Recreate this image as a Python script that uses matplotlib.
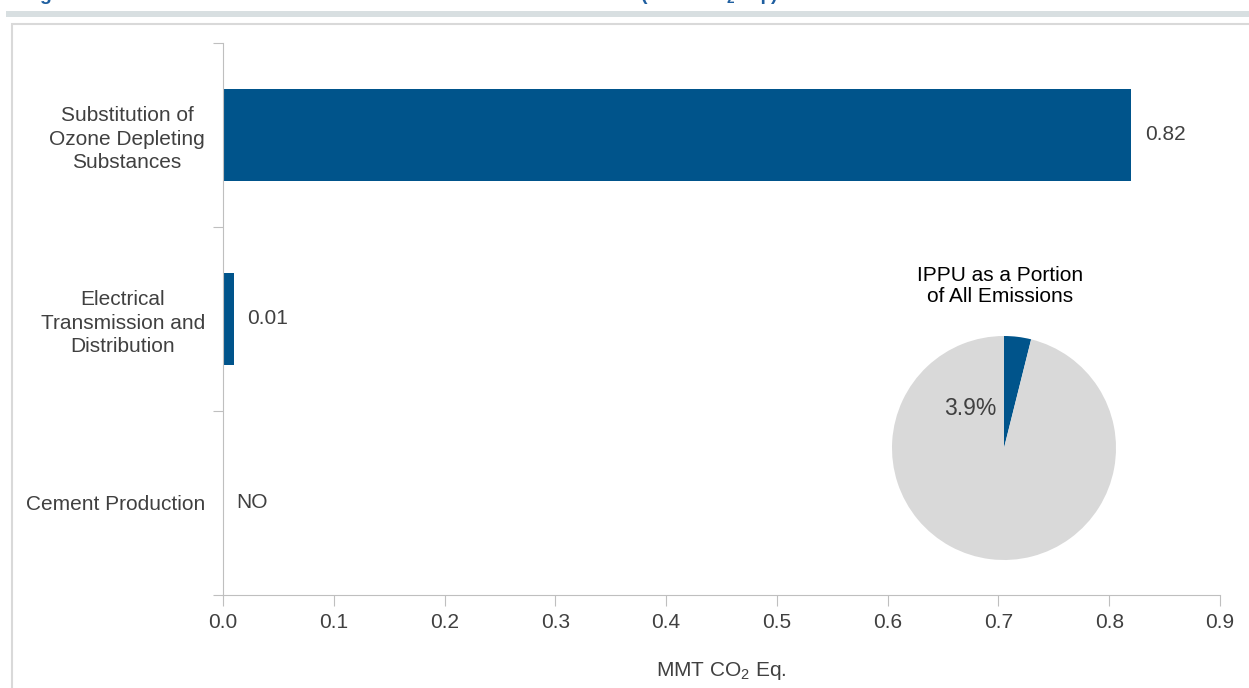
import matplotlib.pyplot as plt
from matplotlib.patches import Rectangle

plt.rcParams['font.family'] = ['Liberation Sans', 'DejaVu Sans']
plt.rcParams['mathtext.default'] = 'regular'

# data
categories = ['Substitution of\nOzone Depleting\nSubstances',
              'Electrical\nTransmission and\nDistribution',
              'Cement Production']
values = [0.82, 0.01, 0.0]
value_labels = ['0.82', '0.01', 'NO']
pie_values = [3.9, 96.1]
pie_label = '3.9%'
pie_title = 'IPPU as a Portion\nof All Emissions'
x_ticks = [0.0, 0.1, 0.2, 0.3, 0.4, 0.5, 0.6, 0.7, 0.8, 0.9]

BLUE = '#00548b'
GRAY = '#d9d9d9'
TXT = '#404040'
W, H = 1249, 688

fig = plt.figure(figsize=(W / 100, H / 100), dpi=100)

# page decorations: title cut by the top edge, band, panel frame
fig.text(400 / W, 1.0, 'Figure 4-1:  2015 Industrial Processes and Product Use Emissions (MMT CO$_2$ Eq.)',
         color='#1f5fa0', fontsize=14, fontweight='bold', va='baseline', ha='center')
fig.patches.append(Rectangle((6 / W, 1 - 17 / H), 1.0, 6 / H, transform=fig.transFigure,
                             facecolor='#d8dfe1', edgecolor='none'))
fig.patches.append(Rectangle((12 / W, -0.1), 1.0, 1.1 - 24 / H, transform=fig.transFigure,
                             facecolor='none', edgecolor='#d9d9d9', lw=1.5))

ax = fig.add_axes([223 / W, 1 - 595 / H, (1220 - 223) / W, (595 - 43) / H])
ypos = [2, 1, 0]
ax.barh(ypos, values, height=0.5, color=BLUE)
for y, v, lab in zip(ypos, values, value_labels):
    ax.text(v + 0.012, y, lab, va='center', ha='left', fontsize=15, color=TXT)

ax.set_xlim(0, 0.9)
ax.set_ylim(-0.5, 2.5)
ax.set_xticks(x_ticks)
ax.set_xticklabels([f'{t:.1f}' for t in x_ticks])
ax.set_yticks([-0.5, 0.5, 1.5, 2.5])
ax.set_yticklabels([])
ax.set_yticks(ypos, minor=True)
ax.set_yticklabels(categories, minor=True, multialignment='center', linespacing=1.3)
ax.tick_params(axis='y', which='major', length=7, color='#bfbfbf', direction='out')
ax.tick_params(axis='y', which='minor', length=0, pad=13, labelsize=15, labelcolor=TXT)
ax.tick_params(axis='x', length=8, color='#bfbfbf', pad=5, labelsize=15, labelcolor=TXT)
for s in ['top', 'right']:
    ax.spines[s].set_visible(False)
for s in ['left', 'bottom']:
    ax.spines[s].set_color('#bfbfbf')
ax.set_xlabel('MMT CO$_2$ Eq.', fontsize=15, color=TXT, labelpad=20)

# pie inset
pax = fig.add_axes([(1004 - 112) / W, 1 - (448 + 112) / H, 224 / W, 224 / H])
pax.pie(pie_values, colors=[BLUE, GRAY], startangle=90, counterclock=False,
        wedgeprops=dict(linewidth=0))
pax.set_xlim(-1, 1)
pax.set_ylim(-1, 1)
pax.set_aspect('equal')
pax.text(-0.30, 0.35, pie_label, ha='center', va='center', fontsize=16.5, color=TXT)
fig.text(1000 / W, 1 - 286 / H, pie_title, ha='center', va='center',
         fontsize=15, color='#000000', linespacing=1.1)

fig.savefig('out.png', dpi=100)
